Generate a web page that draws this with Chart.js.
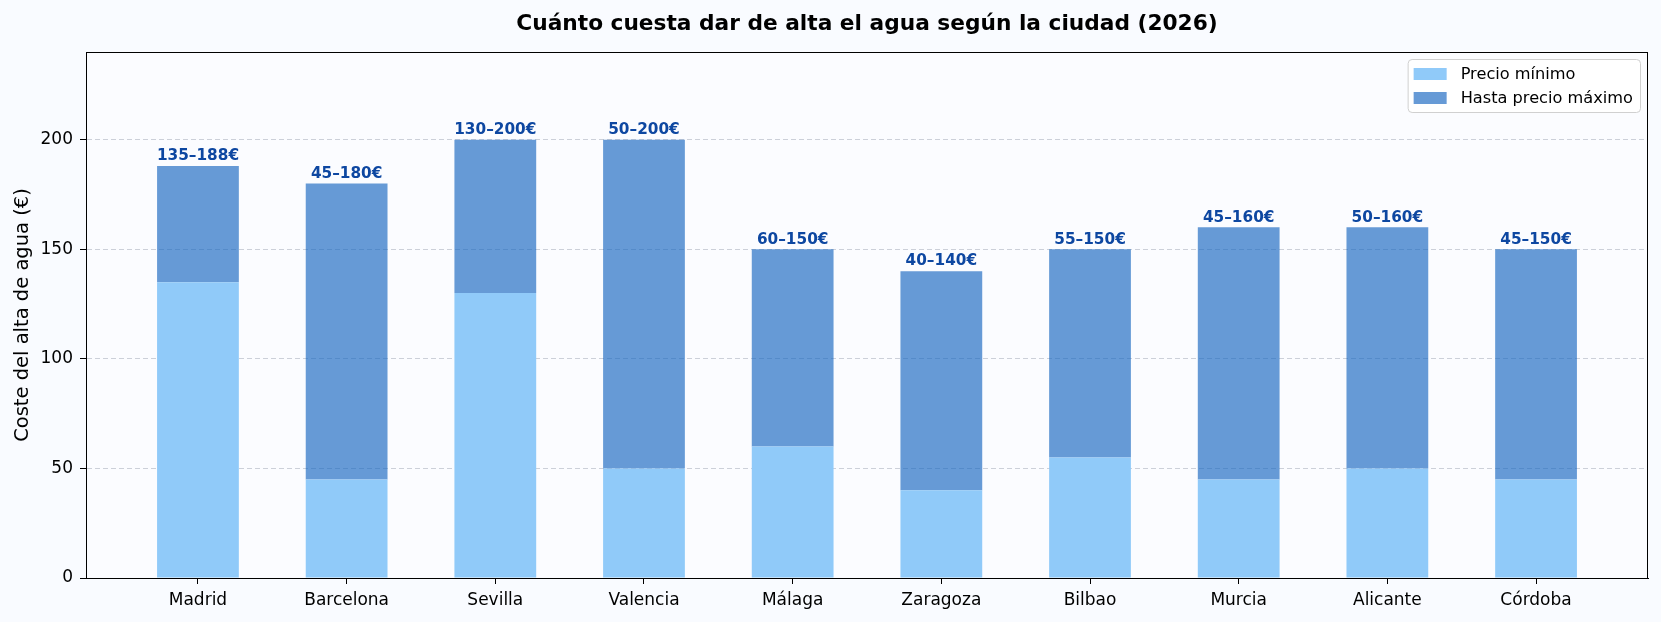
<!DOCTYPE html>
<html>
<head>
<meta charset="utf-8">
<script src="https://cdn.jsdelivr.net/npm/chart.js@4"></script>
<style>
  html, body { margin: 0; padding: 0; background: #f9fbff; }
  #wrap { width: 1661px; height: 622px; }
</style>
</head>
<body>
<div id="wrap"><canvas id="c" width="1661" height="622"></canvas></div>
<script>
const cities = ['Madrid', 'Barcelona', 'Sevilla', 'Valencia', 'Málaga', 'Zaragoza', 'Bilbao', 'Murcia', 'Alicante', 'Córdoba'];
const minPrice = [135, 45, 130, 50, 60, 40, 55, 45, 50, 45];
const maxPrice = [188, 180, 200, 200, 150, 140, 150, 160, 160, 150];
const yTicks = [0, 50, 100, 150, 200];
const chartTitle = 'Cuánto cuesta dar de alta el agua según la ciudad (2026)';

const lightColor = '#90caf9';
const darkColor = 'rgba(21, 101, 192, 0.65)';
const font = "'DejaVu Sans', sans-serif";

const extra = maxPrice.map((v, i) => v - minPrice[i]);

// title over the plot, frame, value labels and legend box
const decor = {
    id: 'decor',
    beforeDraw(chart) {
        const { ctx, chartArea: a } = chart;
        ctx.save();
        ctx.fillStyle = '#fbfcff';
        ctx.fillRect(a.left, a.top, a.right - a.left, a.bottom - a.top);
        ctx.restore();
    },
    afterDatasetsDraw(chart) {
        const ctx = chart.ctx;
        const meta = chart.getDatasetMeta(1);
        ctx.save();
        ctx.font = 'bold 15.3px ' + font;
        ctx.fillStyle = '#0d47a1';
        ctx.textAlign = 'center';
        ctx.textBaseline = 'bottom';
        meta.data.forEach((bar, i) => {
            ctx.fillText(minPrice[i] + '–' + maxPrice[i] + '€', bar.x, bar.y - 2);
        });
        ctx.restore();
    },
    afterDraw(chart) {
        const { ctx, chartArea: a } = chart;
        ctx.save();
        ctx.fillStyle = '#000';
        ctx.font = 'bold 21.7px ' + font;
        ctx.textAlign = 'center';
        ctx.textBaseline = 'middle';
        ctx.fillText(chartTitle, (a.left + a.right) / 2, 24);

        ctx.strokeStyle = '#000';
        ctx.lineWidth = 1;
        ctx.strokeRect(Math.round(a.left) + 0.5, Math.round(a.top) + 0.5,
            Math.round(a.right - a.left) - 1, Math.round(a.bottom - a.top));

        // legend
        const labels = ['Precio mínimo', 'Hasta precio máximo'];
        const colors = [lightColor, darkColor];
        ctx.font = '16.2px ' + font;
        const tw = Math.max(...labels.map(l => ctx.measureText(l).width));
        const w = 6 + 33 + 14 + tw + 7;
        const h = 53;
        const x = a.right - 8 - w;
        const y = a.top + 7;
        ctx.beginPath();
        ctx.roundRect(x + 0.5, y + 0.5, w, h, 4);
        ctx.fillStyle = 'rgba(255,255,255,0.85)';
        ctx.fill();
        ctx.strokeStyle = '#d0d0d0';
        ctx.stroke();
        ctx.textBaseline = 'middle';
        ctx.textAlign = 'left';
        labels.forEach((l, i) => {
            const cy = y + 15 + i * 24;
            ctx.fillStyle = '#fbfcff';
            ctx.fillRect(x + 6, cy - 6, 33, 12);
            ctx.fillStyle = colors[i];
            ctx.fillRect(x + 6, cy - 6, 33, 12);
            ctx.fillStyle = '#000';
            ctx.fillText(l, x + 6 + 33 + 14, cy + 1);
        });
        ctx.restore();
    }
};

const chart = new Chart(document.getElementById('c').getContext('2d'), {
    type: 'bar',
    data: {
        datasets: [
            {
                label: 'Precio mínimo',
                data: minPrice.map((v, i) => ({ x: i, y: v })),
                backgroundColor: lightColor,
                barPercentage: 0.55,
                categoryPercentage: 1
            },
            {
                label: 'Hasta precio máximo',
                data: extra.map((v, i) => ({ x: i, y: v })),
                backgroundColor: darkColor,
                barPercentage: 0.55,
                categoryPercentage: 1
            }
        ]
    },
    options: {
        responsive: false,
        animation: false,
        layout: { padding: { left: 0, right: 13, top: 52, bottom: 0 } },
        scales: {
            x: {
                type: 'linear',
                stacked: true,
                offset: false,
                min: -0.753,
                max: 9.753,
                afterBuildTicks: s => { s.ticks = cities.map((c, i) => ({ value: i })); },
                afterFit: s => { s.height = 44; },
                ticks: {
                    autoSkip: false,
                    maxRotation: 0,
                    padding: 6,
                    color: '#000',
                    font: { family: font, size: 17 },
                    callback: v => cities[v]
                },
                grid: { offset: false, drawOnChartArea: false, tickLength: 6, tickColor: '#000' },
                border: { color: '#000' }
            },
            y: {
                stacked: true,
                min: 0,
                max: 240,
                afterBuildTicks: s => { s.ticks = yTicks.map(v => ({ value: v })); },
                afterFit: s => { s.width = 86; },
                ticks: {
                    padding: 7,
                    color: '#000',
                    font: { family: font, size: 17 }
                },
                grid: { color: 'rgba(165, 172, 185, 0.55)', tickColor: '#000', tickLength: 6 },
                border: { color: '#000', dash: [5, 3] },
                title: {
                    display: true,
                    text: 'Coste del alta de agua (€)',
                    color: '#000',
                    font: { family: font, size: 19.5 },
                    padding: { top: 11, bottom: 2 }
                }
            }
        },
        plugins: {
            legend: { display: false },
            tooltip: { enabled: false },
            title: { display: false }
        }
    },
    plugins: [decor]
});
</script>
</body>
</html>
